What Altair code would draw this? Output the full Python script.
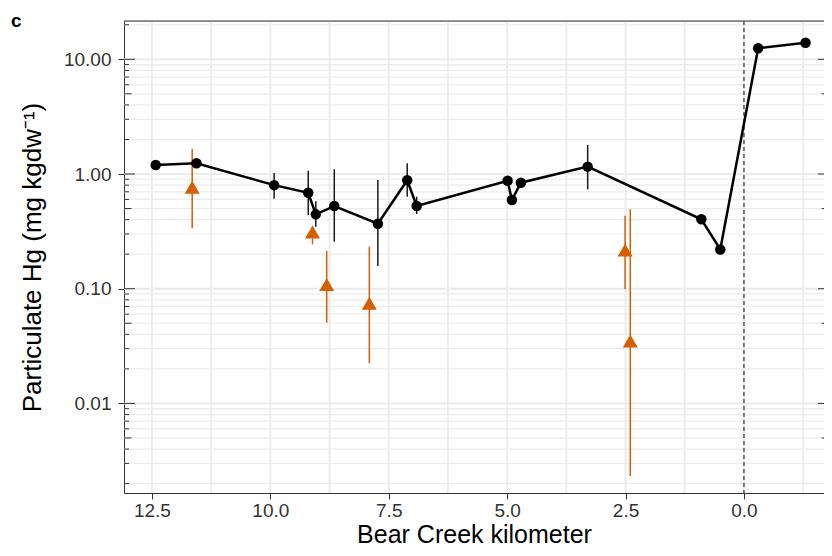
import altair as alt
import pandas as pd

# ---- data ----
# black series (circles + line): Bear Creek km, particulate Hg, error low / high
km_black = [12.42, 11.56, 9.92, 9.20, 9.04, 8.65, 7.73, 7.11, 6.91, 4.99, 4.90, 4.71, 3.30, 0.90, 0.50, -0.30, -1.30]
hg_black = [1.20, 1.24, 0.80, 0.687, 0.445, 0.526, 0.369, 0.881, 0.526, 0.874, 0.593, 0.84, 1.16, 0.403, 0.22, 12.5, 13.95]
lo_black = [1.17, 1.21, 0.61, 0.44, 0.347, 0.257, 0.158, 0.634, 0.448, 0.85, 0.58, 0.82, 0.736, 0.39, 0.215, 12.2, 13.6]
hi_black = [1.23, 1.27, 1.02, 1.07, 0.578, 1.10, 0.887, 1.24, 0.634, 0.90, 0.61, 0.86, 1.79, 0.415, 0.225, 12.8, 14.3]

# orange series (triangles)
km_orange = [11.65, 9.11, 8.81, 7.91, 2.51, 2.40]
hg_orange = [0.765, 0.312, 0.109, 0.0746, 0.217, 0.035]
lo_orange = [0.336, 0.244, 0.0506, 0.0224, 0.0988, 0.00233]
hi_orange = [1.65, 0.35, 0.214, 0.232, 0.433, 0.492]

x_ticks = [12.5, 10.0, 7.5, 5.0, 2.5, 0.0]
x_grid = [12.5, 11.25, 10.0, 8.75, 7.5, 6.25, 5.0, 3.75, 2.5, 1.25, 0.0, -1.25]
y_ticks = [0.01, 0.1, 1.0, 10.0]
y_mid = [0.005, 0.05, 0.5, 5.0]
y_minor = [m * d for d in [0.001, 0.01, 0.1, 1.0, 10.0] for m in [2, 3, 4, 6, 7, 8, 9]]
y_minor = [v for v in y_minor if 0.0017 < v < 21.5]

X_DOMAIN = [-1.69, 13.09]
Y_DOMAIN = [0.001656, 21.58]
W, H = 700, 472
ORANGE = "#D55E00"
DARK = "#333333"
FONT = "Liberation Sans"

black = pd.DataFrame({"km": km_black, "hg": hg_black, "lo": lo_black, "hi": hi_black})
orange = pd.DataFrame({"km": km_orange, "hg": hg_orange, "lo": lo_orange, "hi": hi_orange})

xs = alt.Scale(domain=X_DOMAIN, reverse=True, nice=False, zero=False)
ys = alt.Scale(type="log", domain=Y_DOMAIN, nice=False)
xaxis = alt.Axis(values=x_ticks, format=".1f", grid=False, tickSize=6, tickColor=DARK,
                 domainColor=DARK, labelFontSize=19, labelColor="#333333", labelFont=FONT,
                 labelPadding=2, title="Bear Creek kilometer", titleFontSize=25,
                 titleFont=FONT, titleFontWeight="normal", titleColor="black",
                 titleBaseline="alphabetic", titleY=49.5)
yaxis = alt.Axis(values=y_ticks, format=".2f", grid=False, tickSize=6, tickColor=DARK,
                 domainColor=DARK, labelFontSize=19, labelColor="#333333", labelFont=FONT,
                 labelPadding=7, title="Particulate Hg (mg kgdw⁻¹)", titleFontSize=26,
                 titleFont=FONT, titleFontWeight="normal", titleColor="black", titlePadding=18)


def X(f):
    return alt.X(f, type="quantitative", scale=xs, axis=xaxis)


def Y(f):
    return alt.Y(f, type="quantitative", scale=ys, axis=yaxis)


# gridlines
vgrid = alt.Chart(pd.DataFrame({"km": x_grid})).mark_rule(color="#EBEBEB", strokeWidth=1.8).encode(x=X("km"))
hgrid_major = alt.Chart(pd.DataFrame({"hg": y_ticks})).mark_rule(color="#EBEBEB", strokeWidth=2.0).encode(y=Y("hg"))
hgrid_minor = alt.Chart(pd.DataFrame({"hg": y_mid + y_minor})).mark_rule(color="#EBEBEB", strokeWidth=1.2).encode(y=Y("hg"))


# log ticks inside the panel
def logticks(vals, x0, x1):
    return alt.Chart(pd.DataFrame({"hg": vals})).mark_rule(color=DARK, strokeWidth=1).encode(
        y=Y("hg"), x=alt.value(x0), x2=alt.value(x1))


lt = [
    logticks(y_ticks, 0, 11),
    logticks(y_mid, 0, 7.5),
    logticks(y_minor, 0, 5),
    logticks(y_ticks, W, W - 6),
    logticks(y_mid, W, W - 2.3),
]

top_border = alt.Chart(pd.DataFrame({"a": [0]})).mark_rule(color=DARK, strokeWidth=1).encode(
    y=alt.value(0), x=alt.value(0), x2=alt.value(W))

zero_line = alt.Chart(pd.DataFrame({"km": [0.0]})).mark_rule(
    color=DARK, strokeWidth=1.2, strokeDash=[4, 3]).encode(x=X("km"))

err_orange = alt.Chart(orange).mark_rule(color=ORANGE, strokeWidth=1.5).encode(
    x=X("km"), y=Y("lo"), y2="hi")
err_black = alt.Chart(black).mark_rule(color="#1a1a1a", strokeWidth=1.5).encode(
    x=X("km"), y=Y("lo"), y2="hi")
line_black = alt.Chart(black).mark_line(color="black", strokeWidth=2.5).encode(
    x=X("km"), y=Y("hg"), order="km")
pts_black = alt.Chart(black).mark_point(shape="circle", filled=True, color="black", size=110, opacity=1).encode(
    x=X("km"), y=Y("hg"))
pts_orange = alt.Chart(orange).mark_point(shape="triangle-up", filled=True, color=ORANGE, size=225, opacity=1).encode(
    x=X("km"), y=Y("hg"))

panel_label = alt.Chart(alt.Data(values=[{}])).mark_text(
    text="c", fontWeight="bold", fontSize=19, font=FONT, align="left", baseline="alphabetic", color="black"
).encode(x=alt.value(-113), y=alt.value(5.7))

chart = alt.layer(
    vgrid, hgrid_minor, hgrid_major, zero_line, *lt, top_border,
    err_orange, err_black, line_black, pts_black, pts_orange, panel_label
).properties(
    width=W, height=H,
    autosize=alt.AutoSizeParams(type="none"),
    padding={"left": 116, "top": 13, "right": 0, "bottom": 55},
).configure_view(stroke=None).configure(background="white")

chart.save("out.html", embed_options={"renderer": "svg", "actions": False})
